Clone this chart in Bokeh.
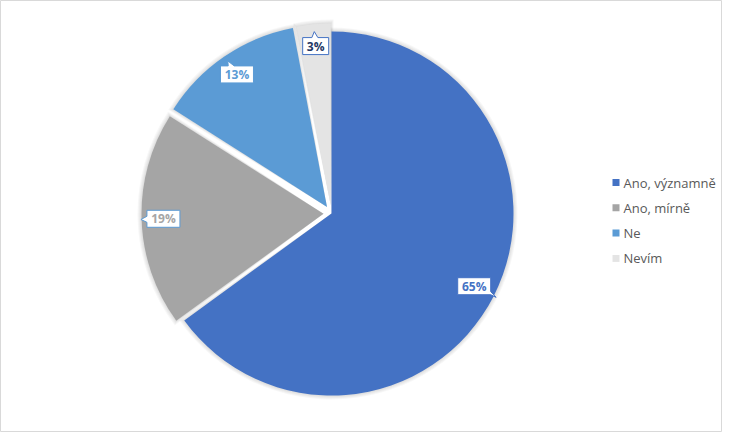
import math
from bokeh.plotting import figure
from bokeh.models import Range1d, ColumnDataSource
from bokeh.core.properties import value
from bokeh.embed import file_html
from bokeh.resources import INLINE

# ---- data ----
categories = ["Ano, významně", "Ano, mírně", "Ne", "Nevím"]
percents = [65, 19, 13, 3]

# ---- styles ----
colors = ["#4472C4", "#A5A5A5", "#5B9BD5", "#E4E4E4"]
label_colors = ["#4472C4", "#A5A5A5", "#5B9BD5", "#1F3864"]
callout_border = ["#4472C4", "#5B9BD5", "#5B9BD5", "#4472C4"]
explode = [0, 8, 8, 8]

W, H = 722, 432
CX, CY, R = 331, 219, 182
FONT = "Open Sans"

p = figure(width=W, height=H, x_range=Range1d(0, W), y_range=Range1d(0, H),
           output_backend="svg", toolbar_location=None, min_border=0)
p.axis.visible = False
p.grid.visible = False
p.outline_line_color = "#D9D9D9"
p.background_fill_color = "white"
p.border_fill_color = "white"

total = float(sum(percents))
cum = 0.0
sl = dict(x=[], y=[], start=[], end=[], color=[])
lab = dict(x=[], y=[], text=[], color=[], ux=[], uy=[], border=[])
for i, v in enumerate(percents):
    f0 = cum / total
    f1 = (cum + v) / total
    cum += v
    mid = (f0 + f1) / 2
    th = math.pi / 2 - mid * 2 * math.pi
    ux, uy = math.cos(th), math.sin(th)
    cx, cy = CX + explode[i] * ux, CY + explode[i] * uy
    sl["x"].append(cx); sl["y"].append(cy)
    sl["start"].append(math.pi / 2 - f1 * 2 * math.pi)
    sl["end"].append(math.pi / 2 - f0 * 2 * math.pi)
    sl["color"].append(colors[i])
    lab["x"].append(cx + 0.88 * R * ux)
    lab["y"].append(cy + 0.88 * R * uy)
    lab["text"].append(f"{v}%")
    lab["color"].append(label_colors[i])
    lab["ux"].append(ux); lab["uy"].append(uy)
    lab["border"].append(callout_border[i])

# soft shadow
for k in range(1, 5):
    p.wedge(x=sl["x"], y=sl["y"], radius=R + k,
            start_angle=[s - k * 0.004 for s in sl["start"]],
            end_angle=[e + k * 0.004 for e in sl["end"]],
            fill_color="#000000", fill_alpha=0.03, line_color=None)

p.wedge(x="x", y="y", radius=R, start_angle="start", end_angle="end",
        fill_color="color", line_color=None, source=ColumnDataSource(sl))


def callout(bx, by, w, h, ux, uy, spike=6, half=3):
    hw, hh = w / 2, h / 2
    L, Rr, B, T = bx - hw, bx + hw, by - hh, by + hh
    tx = hw / abs(ux) if abs(ux) > 1e-9 else 1e9
    ty = hh / abs(uy) if abs(uy) > 1e-9 else 1e9
    t = min(tx, ty)
    px, py = bx + ux * t, by + uy * t
    tip = (px + ux * spike, py + uy * spike)
    cy_ = lambda y: min(max(y, B), T)
    cx_ = lambda x: min(max(x, L), Rr)
    if tx < ty:
        if ux > 0:
            pts = [(L, B), (Rr, B), (Rr, cy_(py - half)), tip, (Rr, cy_(py + half)), (Rr, T), (L, T)]
        else:
            pts = [(L, B), (Rr, B), (Rr, T), (L, T), (L, cy_(py + half)), tip, (L, cy_(py - half))]
    else:
        if uy > 0:
            pts = [(L, B), (Rr, B), (Rr, T), (cx_(px + half), T), tip, (cx_(px - half), T), (L, T)]
        else:
            pts = [(L, B), (cx_(px - half), B), tip, (cx_(px + half), B), (Rr, B), (Rr, T), (L, T)]
    return [q[0] for q in pts], [q[1] for q in pts]


xs, ys = [], []
for i in range(len(percents)):
    w = 12 + 7 * len(lab["text"][i])
    a, b = callout(lab["x"][i], lab["y"][i], w, 17, lab["ux"][i], lab["uy"][i])
    xs.append(a); ys.append(b)
p.patches(xs=xs, ys=ys, fill_color="white", line_color=lab["border"], line_width=1)
p.text(x=lab["x"], y=lab["y"], text=lab["text"], text_color=lab["color"],
       text_font=value(FONT), text_font_style="bold", text_font_size="12px",
       text_align="center", text_baseline="middle")

# legend
LX, LY0, LDY = 615.5, 250, 25.3
ly = [LY0 - i * LDY for i in range(len(categories))]
p.scatter(x=[LX] * len(categories), y=ly, marker="square", size=7,
          fill_color=colors, line_color=None)
p.text(x=[LX + 7.5] * len(categories), y=ly, text=categories, text_color="#595959",
       text_font=value(FONT), text_font_size="13px", text_align="left",
       text_baseline="middle")

open("out.html", "w").write(file_html(p, INLINE))
